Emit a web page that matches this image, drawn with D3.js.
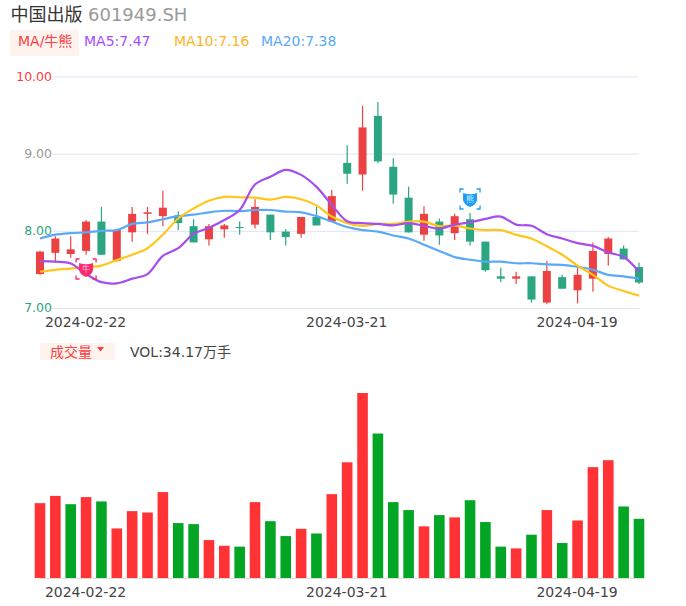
<!DOCTYPE html>
<html><head><meta charset="utf-8">
<script src="https://cdn.jsdelivr.net/npm/d3@7"></script>
<style>html,body{margin:0;padding:0;background:#fff}svg{display:block}text{font-family:"DejaVu Sans","Noto Sans CJK SC",sans-serif}</style>
</head><body><div id="c"></div>
<script>
const openCloseTop=[7.73,7.90,7.76,8.12,8.12,8.01,8.22,8.24,8.30,8.20,8.06,8.06,8.07,8.05,8.31,8.21,7.99,8.18,8.18,8.45,8.88,9.34,9.49,8.83,8.43,8.22,8.12,8.19,8.15,7.86,7.41,7.41,7.41,7.48,7.40,7.43,7.74,7.90,7.77,7.53];
const openCloseBottom=[7.44,7.715,7.70,7.74,7.69,7.61,7.98,8.22,8.19,8.10,7.85,7.89,8.02,8.04,8.08,7.98,7.92,7.96,8.07,8.12,8.74,8.73,8.90,8.47,7.98,7.95,7.94,7.97,7.86,7.49,7.38,7.38,7.11,7.07,7.25,7.23,7.38,7.70,7.63,7.33];
const highs=[7.74,7.93,7.93,8.14,8.31,8.01,8.31,8.31,8.52,8.25,8.15,8.09,8.09,8.12,8.41,8.21,8.02,8.18,8.31,8.53,9.11,9.62,9.67,8.94,8.57,8.32,8.16,8.22,8.23,7.86,7.52,7.47,7.41,7.61,7.43,7.53,7.85,7.92,7.81,7.59];
const lows=[7.43,7.59,7.65,7.69,7.69,7.60,7.86,7.96,8.06,8.01,7.85,7.81,7.91,7.95,8.03,7.88,7.81,7.91,8.07,8.12,8.61,8.52,8.88,8.35,7.98,7.87,7.82,7.88,7.81,7.47,7.335,7.31,7.07,7.05,7.25,7.06,7.21,7.55,7.63,7.31];
const candleRising=[1,1,1,1,0,1,1,1,1,0,0,1,1,0,1,0,0,1,0,1,0,1,0,0,0,1,0,1,0,0,0,1,0,1,0,1,1,1,0,0];
const volumes=[43.2,47.4,42.6,46.7,44.2,28.6,38.6,37.8,49.6,31.7,31.1,21.9,18.6,18.1,43.8,32.8,24.2,28.4,25.7,48.4,66.8,106.8,83.4,43.8,39.2,29.8,36.3,35.0,44.9,32.3,18.1,17.1,25.0,39.2,20.2,33.2,64.0,68.0,41.3,34.17];
const volumeRising=[1,1,0,1,0,1,1,1,1,0,0,1,1,0,1,0,0,1,0,1,1,1,0,0,0,1,0,1,0,0,0,1,0,1,0,1,1,1,0,0];
const ma5=[7.607,7.60,7.577,7.44,7.335,7.32,7.38,7.44,7.676,7.775,7.96,8.04,8.14,8.27,8.60,8.70,8.79,8.725,8.57,8.336,8.125,8.10,8.09,8.07,8.10,8.065,8.03,8.08,8.11,8.155,8.185,8.08,8.065,7.957,7.90,7.84,7.805,7.72,7.66,7.47];
const ma10=[7.47,7.495,7.51,7.53,7.55,7.62,7.69,7.775,7.95,8.16,8.29,8.39,8.44,8.435,8.43,8.405,8.44,8.41,8.33,8.185,8.10,8.065,8.09,8.09,8.12,8.12,8.06,8.07,8.03,8.01,8.01,7.95,7.90,7.80,7.69,7.55,7.43,7.29,7.22,7.16];
const ma20=[7.90,7.95,7.97,7.98,8.0,8.01,8.09,8.11,8.15,8.19,8.21,8.24,8.26,8.255,8.27,8.27,8.25,8.24,8.19,8.12,8.05,8.01,7.99,7.94,7.90,7.82,7.74,7.66,7.625,7.60,7.60,7.58,7.58,7.565,7.56,7.535,7.495,7.43,7.41,7.38];
const priceTicks=[7,8,9,10];
const dateTicks=[[3,"2024-02-22"],[20,"2024-03-21"],[35,"2024-04-19"]];
const bullIndex=3, bearIndex=28;

const svg=d3.select("#c").append("svg").attr("width",686).attr("height",606);
const n=volumes.length;
const x=d3.scaleLinear().domain([0,n-1]).range([40,639]);
const y=d3.scaleLinear().domain([7,10]).range([308,76.5]);
const v=d3.scaleLinear().domain([0,106.8]).range([578,393]);
const RED="#ec4143",GRN="#2ba582";

// header
const t=(px,py,s,size,fill,anchor)=>svg.append("text").attr("x",px).attr("y",py).text(s).attr("font-size",size).attr("fill",fill).attr("text-anchor",anchor||"start");
t(10.5,21,"中国出版",18,"#333");
t(88,21,"601949.SH",18,"#999");
svg.append("rect").attr("x",10).attr("y",30).attr("width",69).attr("height",26).attr("fill","#fff3ef");
t(18,46,"MA/牛熊",14,"#fb4040");
t(84,46,"MA5:7.47",14,"#a64dff");
t(174,46,"MA10:7.16",14,"#ffb21f");
t(261,46,"MA20:7.38",14,"#5aa9f8");

// grid and price labels
svg.append("g").selectAll("line").data(priceTicks).join("line")
 .attr("x1",52).attr("x2",639).attr("y1",d=>y(d)+.5).attr("y2",d=>y(d)+.5).attr("stroke","#dfe3f3");
svg.append("g").selectAll("text").data(priceTicks).join("text")
 .attr("x",52).attr("y",d=>y(d)+4).attr("text-anchor","end").attr("font-size",12.5)
 .attr("fill",d=>d===10?"#fb4040":d===9?"#999":GRN).text(d=>d.toFixed(2));

// candles
const c=svg.append("g").selectAll("g").data(d3.range(n)).join("g");
c.append("line").attr("x1",i=>x(i)).attr("x2",i=>x(i)).attr("y1",i=>y(highs[i])).attr("y2",i=>y(lows[i]))
 .attr("stroke",i=>candleRising[i]?RED:GRN).attr("stroke-width",1.2);
c.append("rect").attr("x",i=>x(i)-4).attr("width",8).attr("y",i=>y(openCloseTop[i]))
 .attr("height",i=>Math.max(1,y(openCloseBottom[i])-y(openCloseTop[i])))
 .attr("fill",i=>candleRising[i]?RED:GRN);

// moving averages
const line=d3.line().x((d,i)=>x(i)).y(d=>y(d)).curve(d3.curveCatmullRom.alpha(.5));
[[ma20,"#5aa9f8"],[ma10,"#ffc61a"],[ma5,"#a64dee"]].forEach(([s,col])=>{
 svg.append("path").attr("d",line(s)).attr("fill","none").attr("stroke",col).attr("stroke-width",2.2);
});

// bull / bear markers
function marker(cx,cy,col,light,label){
 const g=svg.append("g").attr("transform",`translate(${cx},${cy})`);
 const s=10,a=3.5;
 [[-1,-1],[1,-1],[-1,1],[1,1]].forEach(([dx,dy])=>{
  g.append("path").attr("d",`M${dx*s},${dy*(s-a)}V${dy*s}H${dx*(s-a)}`).attr("fill","none").attr("stroke",col).attr("stroke-width",1.3);
 });
 g.append("path").attr("d","M-7,-6Q0,-3.5 7,-6L7,1Q6,6 0,8Q-6,6 -7,1Z").attr("fill",col);
 g.append("text").attr("y",3).attr("text-anchor","middle").attr("font-size",8).attr("fill",light).text(label);
}
marker(x(bullIndex),269,"#fb2a6c","#ffc0d4","牛");
marker(x(bearIndex),199,"#1a9dfb","#bfe6ff","熊");

// date labels
const dates=(yy)=>svg.append("g").selectAll("text").data(dateTicks).join("text")
 .attr("x",d=>x(d[0])-.5).attr("y",yy).attr("text-anchor","middle").attr("font-size",14).attr("fill","#444").text(d=>d[1]);
dates(327);dates(597);

// volume header
svg.append("rect").attr("x",40).attr("y",343).attr("width",75).attr("height",17).attr("fill","#fff3ef");
t(50,356.5,"成交量",14,"#fb4040");
svg.append("path").attr("d","M97,347h7l-3.5,4.5z").attr("fill","#fb4040");
t(130,356.5,"VOL:34.17万手",14,"#444");

// volume bars
svg.append("g").selectAll("rect").data(volumes).join("rect")
 .attr("x",(d,i)=>x(i)-5.3).attr("width",10.6).attr("y",d=>v(d)).attr("height",d=>v(0)-v(d))
 .attr("fill",(d,i)=>volumeRising[i]?"#ff3236":"#02a524");
svg.append("line").attr("x1",40).attr("x2",644).attr("y1",578.5).attr("y2",578.5).attr("stroke","#dcdcdc");
</script></body></html>
